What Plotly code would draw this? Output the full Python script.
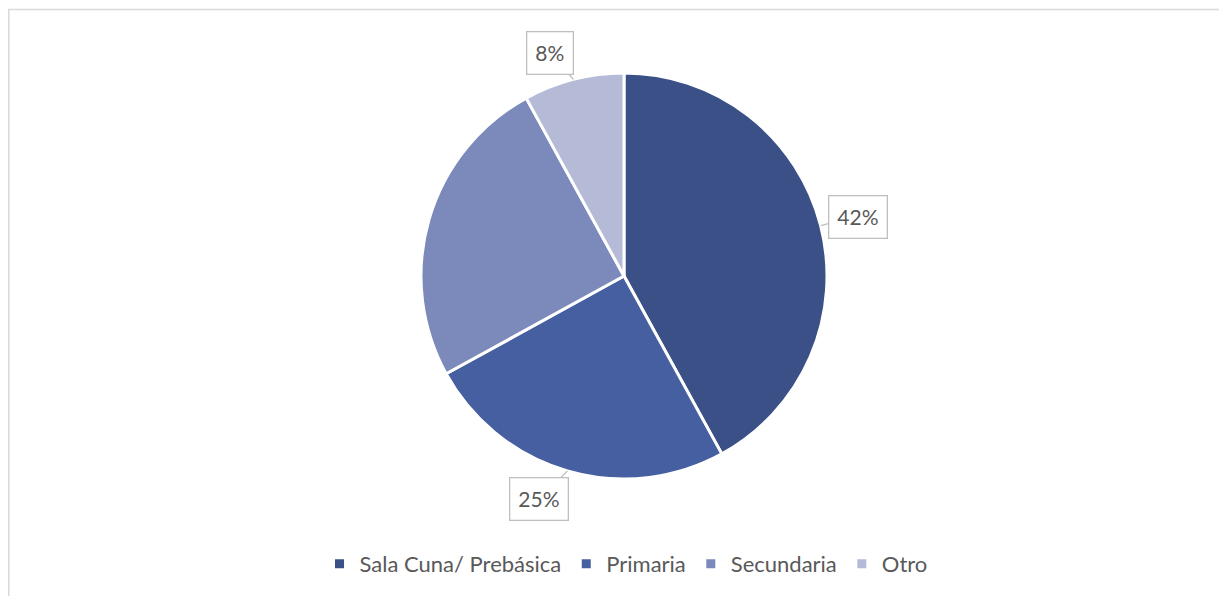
import math
import plotly.graph_objects as go

categories = ["Sala Cuna/ Prebásica", "Primaria", "Secundaria", "Otro"]
values = [42, 25, 25, 8]
label_text = ["42%", "25%", "", "8%"]

colors = ["#3A5087", "#465FA0", "#7B8ABA", "#B5BBD7"]
# label box nudges in pixels (ax, ay) relative to slice edge
label_offsets = [(37, -9), (-28, 28), (0, 0), (-24, -26)]

# page body has an 8px margin; figure is drawn inside it
W, H = 1219, 588
cx, cy, R = 616, 268, 203  # pixel layout of pie (from figure top-left)

fig = go.Figure(go.Pie(
    labels=categories,
    values=values,
    sort=False,
    direction="clockwise",
    rotation=0,
    textinfo="none",
    hoverinfo="label+percent",
    marker=dict(colors=colors, line=dict(color="white", width=3)),
    domain=dict(x=[(cx - R) / W, (cx + R) / W],
                y=[(H - cy - R) / H, (H - cy + R) / H]),
))

total = sum(values)
cum = 0
annotations = []
for v, t, (ax, ay) in zip(values, label_text, label_offsets):
    mid = (cum + v / 2) / total * 2 * math.pi
    cum += v
    if not t:
        continue
    px = cx + R * math.sin(mid)
    py = cy - R * math.cos(mid)
    annotations.append(dict(
        x=px / W, y=1 - py / H, xref="paper", yref="paper",
        text=t, showarrow=True, ax=ax, ay=ay,
        arrowhead=0, arrowwidth=1.3, arrowcolor="#BFBFBF", standoff=0,
        bordercolor="#BFBFBF", borderwidth=1.3, borderpad=8, bgcolor="white",
        font=dict(family="Lato", size=21, color="#595959"),
    ))

fig.update_layout(
    width=W, height=H,
    margin=dict(l=0, r=0, t=0, b=0),
    paper_bgcolor="white",
    plot_bgcolor="white",
    showlegend=True,
    legend=dict(orientation="h", x=0.507, xanchor="center", y=(H - 556) / H, yanchor="middle",
                font=dict(family="Lato", size=22, color="#595959"),
                itemwidth=30, traceorder="normal"),
    annotations=annotations,
    shapes=[dict(type="rect", xref="paper", yref="paper",
                 x0=0.8 / W, x1=1.05, y0=-0.05, y1=1 - 1.5 / H,
                 line=dict(color="#D9D9D9", width=1.5), layer="below")],
)

fig.write_html("out.html")
